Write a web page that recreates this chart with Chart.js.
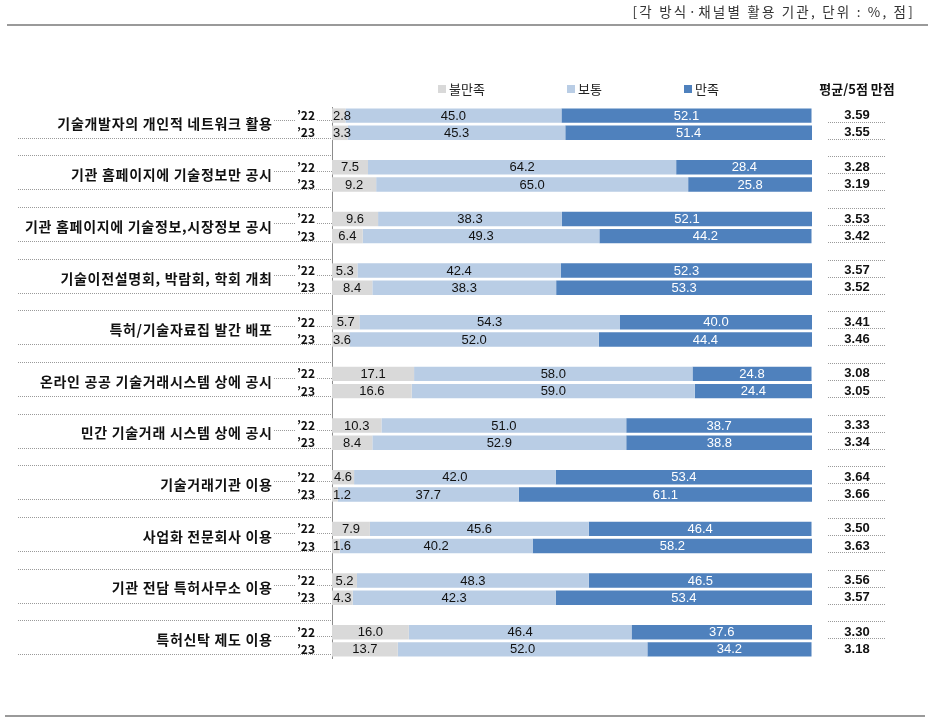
<!DOCTYPE html>
<html><head><meta charset="utf-8">
<script src="https://cdn.jsdelivr.net/npm/chart.js@4.4.1/dist/chart.umd.min.js"></script>
<style>html,body{margin:0;padding:0;background:#fff;}canvas{display:block;}</style>
</head><body>
<canvas id="c" width="928" height="726"></canvas>
<script>
const groups = [
  "기술개발자의 개인적 네트워크 활용",
  "기관 홈페이지에 기술정보만 공시",
  "기관 홈페이지에 기술정보,시장정보 공시",
  "기술이전설명회, 박람회, 학회 개최",
  "특허/기술자료집 발간 배포",
  "온라인 공공 기술거래시스템 상에 공시",
  "민간 기술거래 시스템 상에 공시",
  "기술거래기관 이용",
  "사업화 전문회사 이용",
  "기관 전담 특허사무소 이용",
  "특허신탁 제도 이용"
];
const years = ["’22", "’23"];
const seriesNames = ["불만족", "보통", "만족"];
// values in order: group1 '22, group1 '23, group2 '22, ...
const dissatisfied = [2.8,3.3, 7.5,9.2, 9.6,6.4, 5.3,8.4, 5.7,3.6, 17.1,16.6, 10.3,8.4, 4.6,1.2, 7.9,1.6, 5.2,4.3, 16.0,13.7];
const neutral      = [45.0,45.3, 64.2,65.0, 38.3,49.3, 42.4,38.3, 54.3,52.0, 58.0,59.0, 51.0,52.9, 42.0,37.7, 45.6,40.2, 48.3,42.3, 46.4,52.0];
const satisfied    = [52.1,51.4, 28.4,25.8, 52.1,44.2, 52.3,53.3, 40.0,44.4, 24.8,24.4, 38.7,38.8, 53.4,61.1, 46.4,58.2, 46.5,53.4, 37.6,34.2];
const scores       = ["3.59","3.55","3.28","3.19","3.53","3.42","3.57","3.52","3.41","3.46","3.08","3.05","3.33","3.34","3.64","3.66","3.50","3.63","3.56","3.57","3.30","3.18"];
const headerText = "[각 방식·채널별 활용 기관, 단위 : %, 점]";
const scoreTitle = "평균/5점 만점";

const colors = ["#d9d9d9", "#b9cde5", "#4f81bd"];
const labelColors = ["#111", "#111", "#fff"];

// build slot layout: '22, '23, gap per group (no trailing gap)
const slots = [], slotYear = [], slotSrc = [];
groups.forEach((g, gi) => {
  years.forEach((y, yi) => { slots.push(g + " " + y); slotYear.push(y); slotSrc.push(gi * 2 + yi); });
  if (gi < groups.length - 1) { slots.push(""); slotYear.push(""); slotSrc.push(-1); }
});
const toSlots = arr => slotSrc.map(i => i < 0 ? null : arr[i]);
const seriesData = [dissatisfied, neutral, satisfied];

const KR = '"Noto Sans CJK KR", "Noto Sans", sans-serif';
const NUM = '"Liberation Sans", Arial, sans-serif';

function dotted(ctx, x1, x2, y) {
  ctx.save();
  ctx.strokeStyle = "#9a9a9a";
  ctx.lineWidth = 1;
  ctx.setLineDash([1, 1]);
  ctx.beginPath();
  ctx.moveTo(x1, Math.round(y) + 0.5);
  ctx.lineTo(x2, Math.round(y) + 0.5);
  ctx.stroke();
  ctx.restore();
}

const decor = {
  id: "decor",
  afterDatasetsDraw(chart) {
    const ctx = chart.ctx;
    const ys = chart.scales.y;
    const area = chart.chartArea;
    ctx.save();
    // header
    ctx.fillStyle = "#333";
    ctx.font = "13.5px " + KR;
    ctx.textAlign = "right";
    ctx.textBaseline = "middle";
    ctx.letterSpacing = "2.2px";
    ctx.fillText(headerText, 915, 12);
    ctx.letterSpacing = "0px";
    // top & bottom rules
    ctx.fillStyle = "#9a9a9a";
    ctx.fillRect(7, 24, 921, 2);
    ctx.fillRect(5, 715, 920, 2);
    // legend
    const legX = [438, 567, 684];
    ctx.font = "13px " + KR;
    ctx.textAlign = "left";
    seriesNames.forEach((n, i) => {
      ctx.fillStyle = colors[i];
      ctx.fillRect(legX[i], 85, 8, 8);
      ctx.fillStyle = "#222";
      ctx.fillText(n, legX[i] + 11, 89);
    });
    ctx.font = "bold 13px " + KR;
    ctx.textAlign = "center";
    ctx.fillStyle = "#111";
    ctx.fillText(scoreTitle, 857, 89);

    // data labels
    ctx.font = "13px " + NUM;
    ctx.textBaseline = "middle";
    chart.data.datasets.forEach((ds, di) => {
      const meta = chart.getDatasetMeta(di);
      meta.data.forEach((el, i) => {
        const v = ds.data[i];
        if (v === null || v === undefined) return;
        const p = el.getProps(["x", "y", "base"], true);
        const txt = v.toFixed(1);
        const w = ctx.measureText(txt).width;
        let cx = (p.x + p.base) / 2;
        if (cx - w / 2 < area.left + 1) cx = area.left + 1 + w / 2;
        ctx.fillStyle = labelColors[di];
        ctx.textAlign = "center";
        ctx.fillText(txt, cx, p.y + 0.5);
      });
    });

    // groups: labels, dotted lines, scores
    groups.forEach((g, gi) => {
      const s22 = gi * 3, s23 = gi * 3 + 1;
      const c22 = ys.getPixelForValue(s22), c23 = ys.getPixelForValue(s23);
      const mid = (c22 + c23) / 2;
      ctx.font = "bold 14px " + KR;
      ctx.textAlign = "right";
      ctx.fillStyle = "#111";
      ctx.letterSpacing = "0.7px";
      ctx.fillText(g, 272.7, mid - 1);
      ctx.letterSpacing = "0px";
      // left dotted lines
      if (gi > 0) dotted(ctx, 18, area.left, c22 - 12);
      dotted(ctx, 18, area.left, c23 + 5);
      dotted(ctx, 274, 296, c22 + 4);
      dotted(ctx, 317, area.left, c22 + 4);
      // right score column
      if (gi > 0) dotted(ctx, 828, 886, c22 - 11);
      dotted(ctx, 828, 886, c22 + 6);
      if (gi < groups.length - 1) dotted(ctx, 828, 886, c23 + 6);
      ctx.font = "bold 13px " + NUM;
      ctx.textAlign = "center";
      ctx.fillStyle = "#111";
      ctx.fillText(scores[gi * 2], 857, c22);
      ctx.fillText(scores[gi * 2 + 1], 857, c23);
    });
    ctx.restore();
  }
};

new Chart(document.getElementById("c"), {
  type: "bar",
  data: {
    labels: slots,
    datasets: seriesData.map((arr, i) => ({
      label: seriesNames[i],
      data: toSlots(arr),
      backgroundColor: colors[i],
      borderWidth: 0,
      barPercentage: 0.84,
      categoryPercentage: 1.0
    }))
  },
  options: {
    indexAxis: "y",
    responsive: false,
    animation: false,
    devicePixelRatio: 1,
    layout: { padding: { top: 107, bottom: 68, left: 0, right: 116 } },
    plugins: { legend: { display: false }, tooltip: { enabled: false } },
    scales: {
      x: { stacked: true, min: 0, max: 100, display: false },
      y: {
        stacked: true,
        grid: { display: false, drawTicks: false },
        border: { display: true, color: "#8c8c8c", width: 1 },
        ticks: {
          autoSkip: false,
          padding: 17,
          color: "#111",
          font: { family: KR, size: 12, weight: "bold" },
          callback: (v, i) => slotYear[i]
        },
        afterFit(scale) { scale.width = 332; }
      }
    }
  },
  plugins: [decor]
});
</script>
</body></html>
